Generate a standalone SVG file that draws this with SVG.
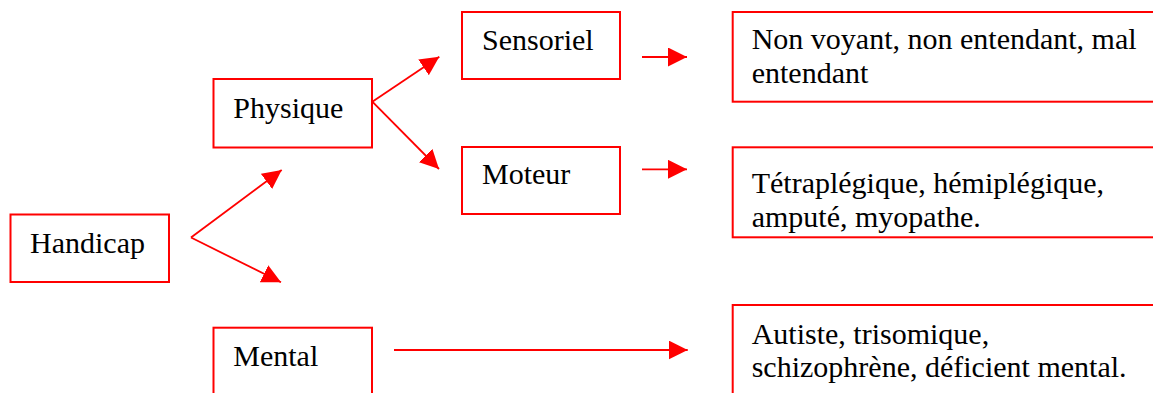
<svg xmlns="http://www.w3.org/2000/svg" width="1153" height="393" viewBox="0 0 1153 393">
<style>
.box{fill:#fff;stroke:#ff0000;stroke-width:2}
.t{font-family:"Liberation Serif","Times New Roman",serif;font-size:30px;fill:#000}
.c{fill:none;stroke:#ff0000;stroke-width:1.8;marker-end:url(#ah)}
</style>
<defs>
<marker id="ah" markerUnits="userSpaceOnUse" markerWidth="20" markerHeight="20" refX="19" refY="9.5" orient="auto">
<path d="M0,0 L19,9.5 L0,19 z" fill="#ff0000"/>
</marker>
</defs>
<rect width="1153" height="393" fill="#fff"/>
<g id="connectors">
<path class="c" d="M191,237.5 L281.7,170"/>
<path class="c" d="M191,237.5 L281,282.3"/>
<path class="c" d="M372.3,101.7 L439.3,56.7"/>
<path class="c" d="M372.3,101.7 L439,169"/>
<path class="c" d="M642,57 L687,57"/>
<path class="c" d="M642,169.3 L687,169.3"/>
<path class="c" d="M394,350 L687.7,350"/>
</g>
<g id="handicap">
<rect class="box" x="10.5" y="214.5" width="158.5" height="67.5"/>
<text class="t" x="30" y="253">Handicap</text>
</g>
<g id="physique">
<rect class="box" x="213.5" y="79" width="158.5" height="68.5"/>
<text class="t" x="233.3" y="117.5">Physique</text>
</g>
<g id="mental">
<rect class="box" x="213.5" y="327.7" width="158.5" height="100"/>
<text class="t" x="233.3" y="366">Mental</text>
</g>
<g id="sensoriel">
<rect class="box" x="462" y="12" width="158" height="67"/>
<text class="t" x="482" y="50">Sensoriel</text>
</g>
<g id="moteur">
<rect class="box" x="462" y="147" width="158" height="67"/>
<text class="t" x="482" y="184.3">Moteur</text>
</g>
<g id="sensoriel-details">
<rect class="box" x="732.7" y="12" width="500" height="89.7"/>
<text class="t" x="751.7" y="49">Non voyant, non entendant, mal</text>
<text class="t" x="751.7" y="83">entendant</text>
</g>
<g id="moteur-details">
<rect class="box" x="732.7" y="147.3" width="500" height="90"/>
<text class="t" x="751.7" y="193.3">Tétraplégique, hémiplégique,</text>
<text class="t" x="751.7" y="226.7">amputé, myopathe.</text>
</g>
<g id="mental-details">
<rect class="box" x="732.7" y="305" width="500" height="150"/>
<text class="t" x="751.7" y="344">Autiste, trisomique,</text>
<text class="t" x="751.7" y="377.3">schizophrène, déficient mental.</text>
</g>
</svg>
